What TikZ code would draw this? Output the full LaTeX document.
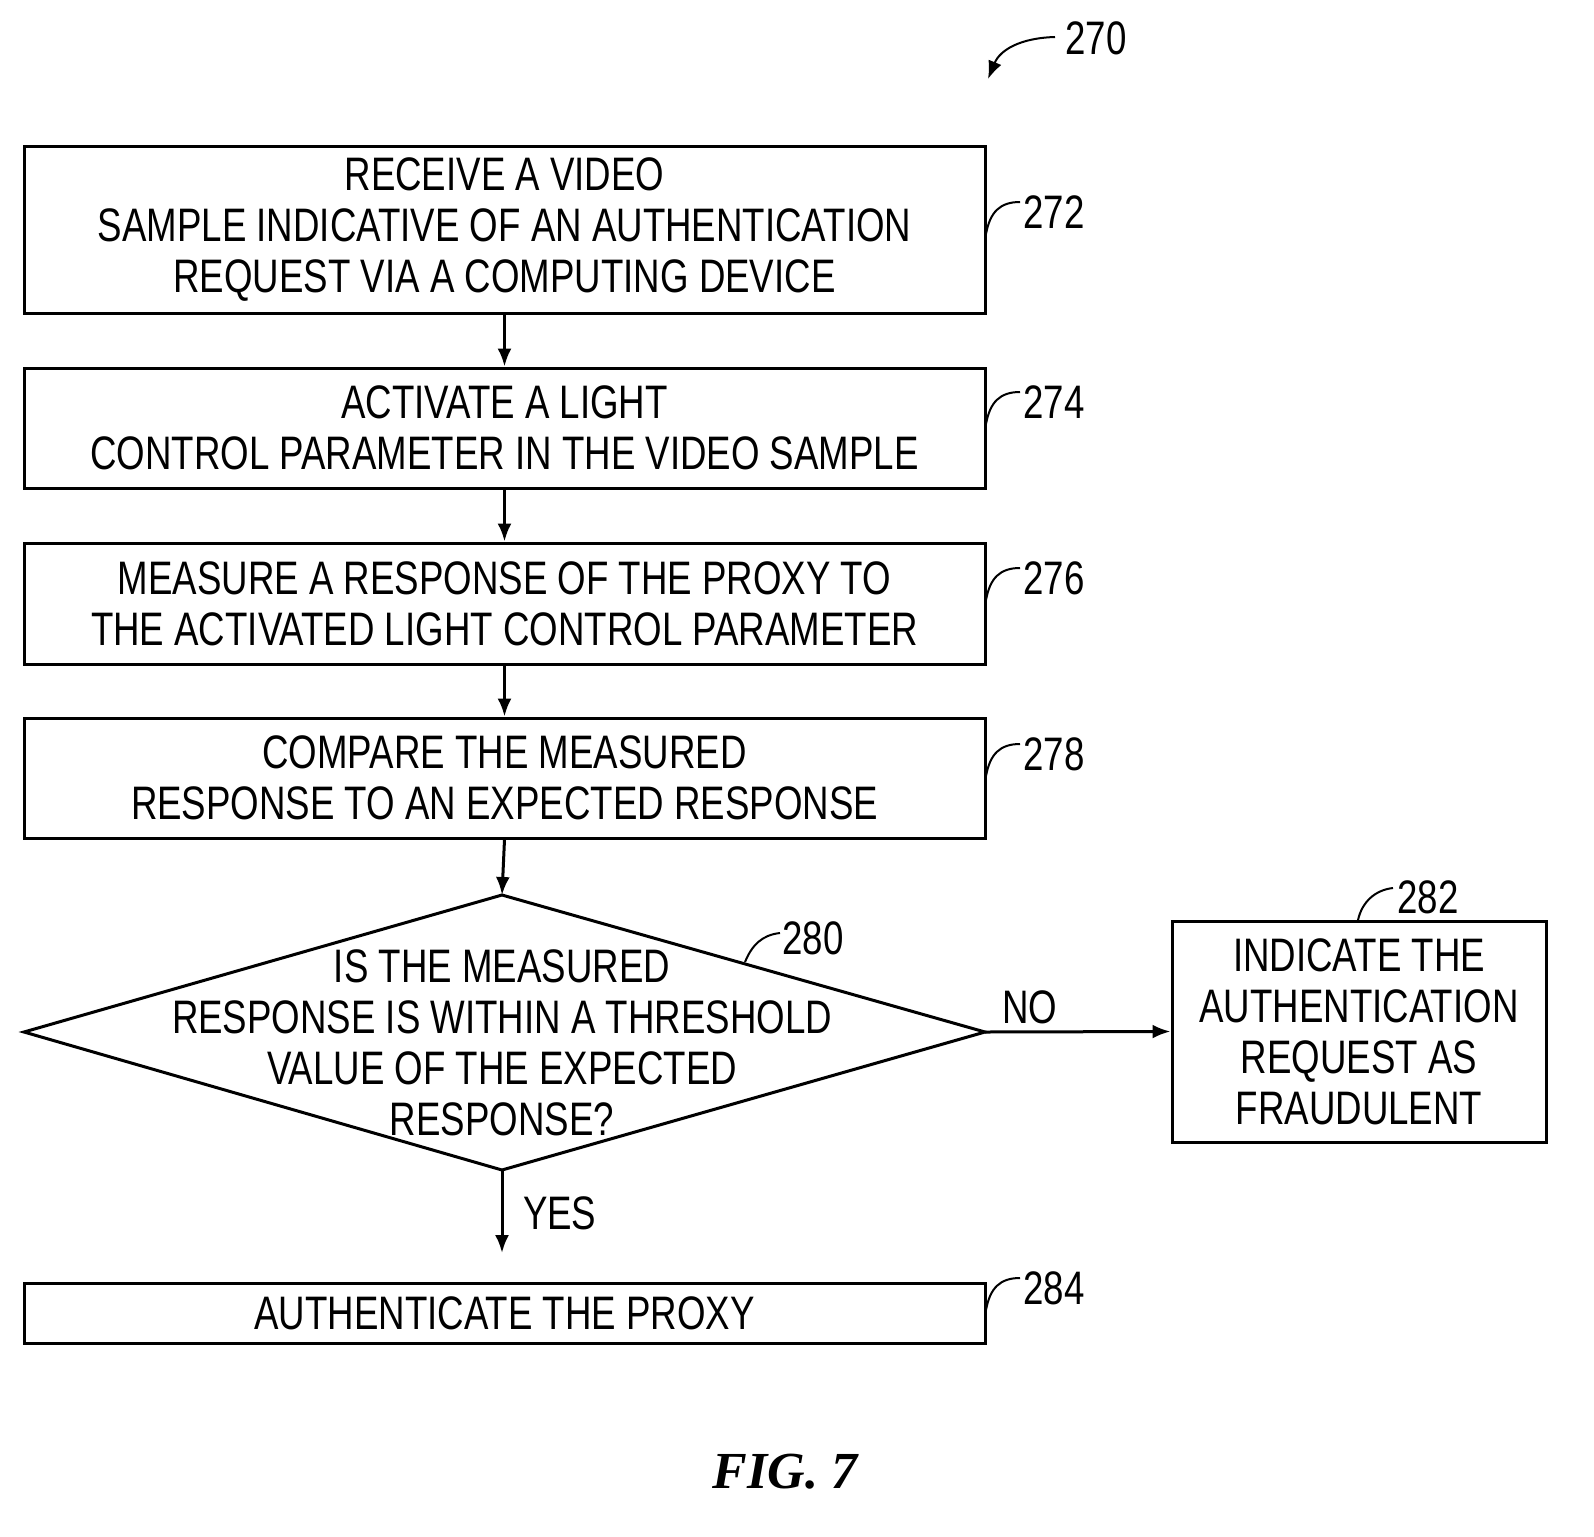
\documentclass[tikz,border=0pt]{standalone}
\usetikzlibrary{arrows.meta}
\usepackage{fontspec}
\setmainfont{Liberation Sans}[FakeStretch=0.78]
\newfontfamily\figfont{Liberation Serif}
\begin{document}
\begin{tikzpicture}[x=0.5pt,y=-0.5pt,
  box/.style={draw,line width=1.5pt,inner sep=0pt},
  txt/.style={align=center,font=\fontsize{23.5}{25.5}\selectfont},
  arr/.style={line width=1.5pt,-{Latex[length=9pt,width=7pt]}},
  lead/.style={line width=1pt}]
\useasboundingbox (0,0) rectangle (1594,1536);
\node[box,minimum width=480.5pt,minimum height=83.5pt] (b272) at (504.5,229.5) {};
\node[txt] at (b272) {RECEIVE A VIDEO\\SAMPLE INDICATIVE OF AN AUTHENTICATION\\REQUEST VIA A COMPUTING DEVICE};
\node[box,minimum width=480.5pt,minimum height=60pt] (b274) at (504.5,428) {};
\node[txt] at (b274) {ACTIVATE A LIGHT\\CONTROL PARAMETER IN THE VIDEO SAMPLE};
\node[box,minimum width=480.5pt,minimum height=60.5pt] (b276) at (504.5,603.5) {};
\node[txt] at (b276) {MEASURE A RESPONSE OF THE PROXY TO\\THE ACTIVATED LIGHT CONTROL PARAMETER};
\node[box,minimum width=480.5pt,minimum height=60pt] (b278) at (504.5,778) {};
\node[txt] at (b278) {COMPARE THE MEASURED\\RESPONSE TO AN EXPECTED RESPONSE};
\coordinate (dt) at (502,895); \coordinate (dl) at (24,1032);
\coordinate (dr) at (985,1032); \coordinate (db) at (502,1170);
\draw[line width=1.5pt] (dt)--(dr)--(db)--(dl)--cycle;
\node[txt] (d280) at (502,1043) {IS THE MEASURED\\RESPONSE IS WITHIN A THRESHOLD\\VALUE OF THE EXPECTED\\RESPONSE?};
\node[box,minimum width=187pt,minimum height=110.5pt] (b282) at (1359,1031.5) {};
\node[txt] at (b282) {INDICATE THE\\AUTHENTICATION\\REQUEST AS\\FRAUDULENT};
\node[box,minimum width=480.5pt,minimum height=30pt] (b284) at (504.5,1313) {};
\node[txt] at (b284) {AUTHENTICATE THE PROXY};
\draw[arr] (b272.south) -- (b274.north);
\draw[arr] (b274.south) -- (b276.north);
\draw[arr] (b276.south) -- (b278.north);
\draw[arr] (b278.south) -- (dt);
\draw[arr] (dr) -- (b282.west);
\coordinate (yesend) at (502,1253);
\draw[arr] (db) -- (yesend);
\node[txt,anchor=west] (yes) at (516,1213) {YES};
\node[txt] (no) at (1030,1007) {NO};
\node[txt] (l270) at (1096,38) {270};
\coordinate (a270s) at (1055,37); \coordinate (a270e) at (988,79);
\draw[lead,-{Latex[length=9pt,width=7pt]}] (a270s) .. controls (1020,38) and (1000,50) .. (a270e);
\foreach \n/\y in {272/212,274/402,276/578,278/754,284/1288}{
  \node[txt] (l\n) at (1054,\y) {\n};
  \coordinate (s\n) at (986,\y+22); \coordinate (e\n) at (1020,\y-10);
  \draw[lead] (s\n) .. controls (990,\y) and (1000,\y-10) .. (e\n);
}
\node[txt] (l280) at (813,938) {280};
\coordinate (s280) at (745,962); \coordinate (e280) at (780,933);
\draw[lead] (s280) .. controls (752,945) and (762,935) .. (e280);
\node[txt] (l282) at (1428,897) {282};
\coordinate (s282) at (1358,920); \coordinate (e282) at (1393,888);
\draw[lead] (s282) .. controls (1362,902) and (1375,890) .. (e282);
\node[font=\figfont\bfseries\itshape\fontsize{26}{30}\selectfont] (fig) at (785,1472) {FIG. 7};
\end{tikzpicture}
\end{document}
